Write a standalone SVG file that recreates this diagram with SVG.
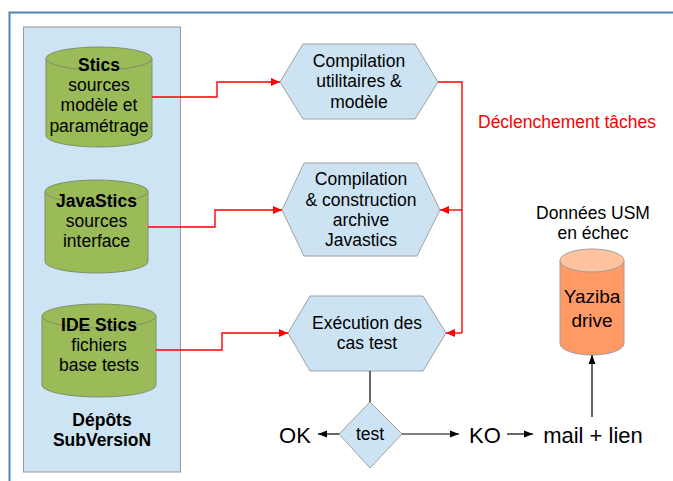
<svg xmlns="http://www.w3.org/2000/svg" width="673" height="481" viewBox="0 0 673 481">
<style>
text{font-family:"Liberation Sans",Arial,sans-serif;font-size:17.5px;fill:#000;text-anchor:middle}
.b{font-weight:bold}
.big{font-size:22px}
.red{fill:#FF0000;text-anchor:start}
.cyl{fill:#9BBB59;stroke:#7F8F6A;stroke-width:1}
.hex{fill:#CCE3F3;stroke:#A0A0A0;stroke-width:1}
.rc{fill:none;stroke:#FF0000;stroke-width:1.4}
.bc{fill:none;stroke:#000;stroke-width:1.2}
</style>
<defs>
<marker id="ar" markerUnits="userSpaceOnUse" markerWidth="10" markerHeight="10" refX="9" refY="5" orient="auto"><path d="M0,1 L9,5 L0,9 z" fill="#FF0000"/></marker>
<marker id="ab" markerUnits="userSpaceOnUse" markerWidth="10" markerHeight="10" refX="9" refY="5" orient="auto"><path d="M0,1.5 L9,5 L0,8.5 z" fill="#000"/></marker>
</defs>
<rect width="673" height="481" fill="#fff"/>
<path d="M9.5,481 V12.5 H673" fill="none" stroke="#4F81BD" stroke-width="2"/>
<g id="depots">
<rect x="23.5" y="27" width="157" height="445" fill="#CDE4F4" stroke="#999" stroke-width="1"/>
<text class="b" x="102" y="426">Dépôts</text>
<text class="b" x="102" y="446">SubVersioN</text>
</g>
<g id="stics">
<path class="cyl" d="M46,58.5 V135.5 A53,11.5 0 0 0 152,135.5 V58.5"/>
<ellipse class="cyl" cx="99" cy="58.5" rx="53" ry="11.5"/>
<text class="b" x="99" y="71">Stics</text>
<text x="99" y="91">sources</text>
<text x="99" y="111">modèle et</text>
<text x="99" y="132">paramétrage</text>
</g>
<g id="javastics">
<path class="cyl" d="M45,191.5 V261.5 A51.5,11.5 0 0 0 148,261.5 V191.5"/>
<ellipse class="cyl" cx="96.5" cy="191.5" rx="51.5" ry="11.5"/>
<text class="b" x="96.5" y="207">JavaStics</text>
<text x="96.5" y="227">sources</text>
<text x="96.5" y="247">interface</text>
</g>
<g id="idestics">
<path class="cyl" d="M42,316 V385 A57,12 0 0 0 156,385 V316"/>
<ellipse class="cyl" cx="99" cy="316" rx="57" ry="12"/>
<text class="b" x="99" y="331">IDE Stics</text>
<text x="99" y="351">fichiers</text>
<text x="99" y="371">base tests</text>
</g>
<g id="hex1">
<polygon class="hex" points="280,82 303,44 415,44 438,82 415,119 303,119"/>
<text x="359" y="67">Compilation</text>
<text x="359" y="87">utilitaires &amp;</text>
<text x="359" y="108">modèle</text>
</g>
<g id="hex2">
<polygon class="hex" points="282,210 304,163 417,163 440,210 417,256 304,256"/>
<text x="361" y="185">Compilation</text>
<text x="361" y="206">&amp; construction</text>
<text x="361" y="226">archive</text>
<text x="361" y="246">Javastics</text>
</g>
<g id="hex3">
<polygon class="hex" points="288,333 310,296 423,296 446,333 423,371 310,371"/>
<text x="367" y="329">Exécution des</text>
<text x="367" y="349">cas test</text>
</g>
<g id="test">
<polygon class="hex" points="370,402 402,434 370,468 339,434"/>
<text x="370" y="440">test</text>
</g>
<g id="yaziba">
<path d="M560,260.5 V343.5 A32,11.5 0 0 0 624,343.5 V260.5" fill="#FF9966" stroke="#A0A0A0" stroke-width="1"/>
<ellipse cx="592" cy="260.5" rx="32" ry="11.5" fill="#FFC3A0" stroke="#A0A0A0" stroke-width="1"/>
<text x="592" y="303" style="font-size:19px">Yaziba</text>
<text x="592" y="327" style="font-size:19px">drive</text>
</g>
<g id="labels">
<text class="red" x="478" y="128">Déclenchement tâches</text>
<text x="593" y="219">Données USM</text>
<text x="593" y="239">en échec</text>
<text class="big" x="295" y="443">OK</text>
<text class="big" x="485" y="443">KO</text>
<text class="big" x="593" y="443">mail + lien</text>
</g>
<g id="connectors">
<path class="rc" d="M152,97 H217 V82 H280" marker-end="url(#ar)"/>
<path class="rc" d="M148,227 H215 V210 H282" marker-end="url(#ar)"/>
<path class="rc" d="M156,350 H222 V333 H288" marker-end="url(#ar)"/>
<path class="rc" d="M438,82 H462 V333"/>
<path class="rc" d="M462,210 H440" marker-end="url(#ar)"/>
<path class="rc" d="M462,333 H446" marker-end="url(#ar)"/>
<path class="bc" d="M370,371 V402"/>
<path class="bc" d="M339,434 H318" marker-end="url(#ab)"/>
<path class="bc" d="M402,434 H459" marker-end="url(#ab)"/>
<path class="bc" d="M507,434 H533" marker-end="url(#ab)"/>
<path class="bc" d="M592,417 V355" marker-end="url(#ab)"/>
</g>
</svg>
